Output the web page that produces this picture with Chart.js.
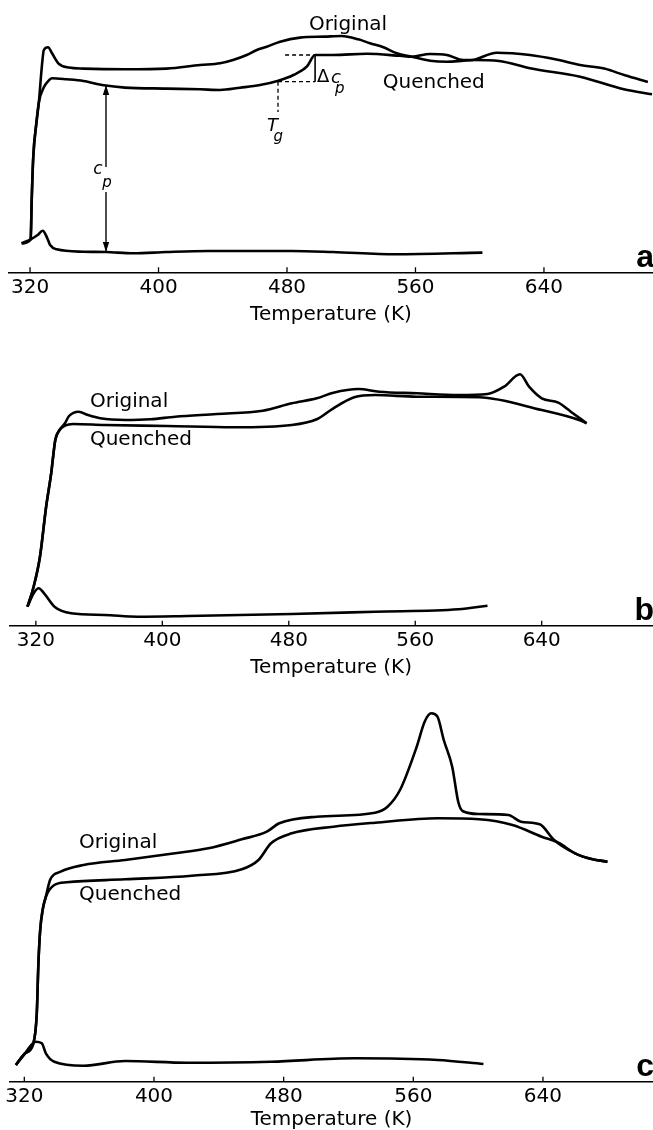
<!DOCTYPE html>
<html><head><meta charset="utf-8">
<script src="https://cdn.jsdelivr.net/npm/chart.js@4.4.1/dist/chart.umd.min.js"></script>
<style>
html,body{margin:0;padding:0;background:#fff;}
body{width:653px;height:1130px;overflow:hidden;position:relative;}
.p{position:absolute;left:0;width:653px;}
canvas{display:block;}
</style></head><body>
<div class="p" style="top:0px"><canvas id="ca" width="653" height="330"></canvas></div>
<div class="p" style="top:330px"><canvas id="cb" width="653" height="360"></canvas></div>
<div class="p" style="top:690px"><canvas id="cc" width="653" height="440"></canvas></div>
<script>
// ---------- DATA (temperature K, heat-capacity signal in arbitrary units) ----------
const tickValues = [320, 400, 480, 560, 640];
const axisTitle = 'Temperature (K)';

// panel a
const aBaseT = [314.8, 320.4, 324.5, 327.9, 330.5, 332.5, 336.6, 353.2, 367.3, 384.3, 405, 430.8, 482.6, 508.5, 547.3, 601.7];
const aBaseH = [29, 33, 37, 41.6, 35, 27.3, 23, 20.6, 20.3, 19, 20.3, 21.3, 21.3, 20.3, 18, 19.7];
const aOrigT = [314.8, 320.4, 321, 322, 324, 325.5, 327.3, 328.6, 331.2, 333.7, 337.6, 344.1, 353.2, 379.1, 405.1, 425.9, 438.3, 446.4, 454.9, 461.2, 467.4, 475.7, 488.1, 503.7, 514, 524.4, 531.7, 540, 548.3, 557.7, 569.1, 579.5, 589.8, 596, 610.6, 631.3, 647, 662.5, 677.5, 690.4, 704.7];
const aOrigH = [29, 33, 70, 115, 150, 170, 205, 222.3, 225, 219, 209, 204.7, 203.7, 203, 203.7, 207.3, 209, 212.3, 217.3, 222.3, 225.6, 230.6, 234.7, 235.7, 236.3, 233, 229, 225, 219, 215.6, 211.6, 210.6, 211.6, 212.3, 219.6, 217.3, 213, 207.3, 203.7, 197, 190.3];
const aQuenT = [314.8, 320.4, 321, 322, 324, 325.5, 328.6, 331.2, 333.7, 342.8, 353.2, 366, 379.1, 405.1, 425.9, 438.3, 450.8, 463.2, 474.6, 484, 492.3, 497.5, 508.7, 529.7, 550.4, 557.7, 569.1, 579.5, 589.8, 596, 612, 631.3, 662.5, 689.7, 707.3];
const aQuenH = [29, 33, 70, 115, 150, 170, 185, 191, 194, 193, 191.3, 187, 184.7, 183.7, 183, 182.3, 184.6, 187.3, 191.6, 197.3, 205.6, 217.3, 217.3, 218.5, 216.5, 215.6, 218.3, 217.3, 212.3, 212.3, 211.3, 204, 195.6, 183, 178];

// panel b
const bBaseT = [314.7, 318.6, 321.8, 325.2, 331.8, 342.3, 363.4, 384.5, 416.1, 481.9, 534.6, 587.3, 605.7];
const bBaseH = [19, 32.4, 37.4, 32.4, 19, 12.4, 10.7, 9, 9.7, 11.7, 14, 16.4, 20];
const bOrigT = [314.7, 318.6, 322.6, 326.5, 329.7, 332.3, 335, 338.4, 341, 347.1, 352.9, 360.8, 376.6, 392.4, 408.2, 434.5, 463.5, 481.9, 497.7, 508.2, 524, 537.2, 560.9, 587.2, 605.7, 616.2, 626.3, 632, 640, 650.5, 658.4, 668.4];
const bOrigH = [19, 39, 69, 119, 152.4, 185.7, 195.7, 202.4, 209.7, 214, 210.7, 207.4, 205.7, 206.4, 209, 211.7, 215, 222.4, 227.4, 233, 236.7, 234, 232.4, 230.7, 231.7, 239, 251.4, 239, 227.4, 223, 214, 202.4];
const bQuenT = [314.7, 318.6, 322.6, 326.5, 329.7, 332.3, 335, 338.4, 343.6, 363.4, 402.9, 445, 481.9, 497.7, 508.2, 521.4, 534.6, 560.9, 600.4, 640, 663.7, 668.4];
const bQuenH = [19, 39, 69, 119, 152.4, 185.7, 195.7, 200, 201.7, 200.7, 199.7, 198.4, 200.7, 206.4, 217.4, 228.4, 230.7, 229, 228.4, 215.7, 205.7, 202.4];

// panel c
const cBaseT = [314.8, 320.5, 326.9, 330.8, 333.3, 338.5, 356.5, 382.2, 420.8, 472.2, 523.6, 575, 603.3];
const cBaseH = [16.7, 28.4, 40, 38.4, 28.4, 20, 16, 20.7, 19, 20, 23.4, 21.7, 17.7];
const cOrigT = [314.8, 320.5, 325.6, 327.7, 328.7, 329.8, 331.3, 333.3, 335.9, 342.4, 356.5, 382.2, 413, 433.6, 454.2, 469.6, 477.3, 500.4, 536.4, 544.1, 551.8, 562.1, 567, 571.1, 574.9, 578.8, 584, 587.8, 590.4, 600.6, 618.7, 626.4, 638, 646.9, 659.8, 670, 679.8];
const cOrigH = [16.7, 28.4, 38.4, 68.4, 118.4, 151.7, 171.7, 185, 201.7, 210, 216.7, 221.7, 228.4, 233.4, 242.4, 250, 258.4, 265, 269, 275, 291.7, 335, 360, 368.4, 365, 341.7, 315, 279.4, 270.7, 267.7, 266.7, 260, 257.4, 241.7, 228.4, 222.7, 220];
const cQuenT = [314.8, 320.5, 325.6, 327.7, 328.7, 329.8, 331.3, 333.3, 338.5, 346.2, 382.2, 423.3, 454.2, 464.5, 472.2, 485, 510.7, 536.4, 575, 600.6, 621.2, 639.2, 649.5, 659.8, 670, 679.8];
const cQuenH = [16.7, 28.4, 38.4, 68.4, 118.4, 151.7, 171.7, 185, 196.7, 199.4, 202.4, 206, 212.4, 221.7, 238.4, 248.4, 255, 259, 263.4, 262.4, 256.7, 245, 239, 228.4, 222.7, 220];

// ---------- helpers ----------
const FONT = '"DejaVu Sans", sans-serif';
const BOLD = '"Liberation Sans", Arial, sans-serif';
function pts(T, H) { return T.map((t, i) => ({ x: t, y: H[i] })); }
function P(ch, T, h) { return [ch.scales.x.getPixelForValue(T), ch.scales.y.getPixelForValue(h)]; }
function txt(ctx, s, x, y, font, align, base) {
  ctx.font = font; ctx.textAlign = align || 'left'; ctx.textBaseline = base || 'middle';
  ctx.fillStyle = '#000'; ctx.fillText(s, x, y);
}
function label(ch, s, T, h, font, align) { const [x, y] = P(ch, T, h); txt(ch.ctx, s, x, y, font, align); }
function seg(ch, T1, h1, T2, h2, dash, w) {
  const ctx = ch.ctx; const [x1, y1] = P(ch, T1, h1); const [x2, y2] = P(ch, T2, h2);
  ctx.save(); ctx.strokeStyle = '#000'; ctx.lineWidth = w || 1.3; ctx.setLineDash(dash || []);
  ctx.beginPath(); ctx.moveTo(x1, y1); ctx.lineTo(x2, y2); ctx.stroke(); ctx.restore();
}
function head(ctx, x, y, dir) {
  ctx.beginPath(); ctx.moveTo(x, y); ctx.lineTo(x - 3.2, y - dir * 10); ctx.lineTo(x + 3.2, y - dir * 10); ctx.closePath(); ctx.fill();
}
function panelLetter(ch, s) {
  const ctx = ch.ctx; const y = ch.scales.y.getPixelForValue(5.5);
  txt(ctx, s, ch.width + 1, y, 'bold 32px ' + BOLD, 'right', 'alphabetic');
}

const upTicks = {
  id: 'upTicks',
  afterDraw(ch) {
    const s = ch.scales.x, ctx = ch.ctx;
    ctx.save(); ctx.strokeStyle = '#000'; ctx.lineWidth = 1.3;
    s.ticks.forEach(t => { const x = s.getPixelForValue(t.value); ctx.beginPath(); ctx.moveTo(x, s.top); ctx.lineTo(x, s.top - 5); ctx.stroke(); });
    ctx.restore();
  }
};

function makeChart(id, sets, o) {
  return new Chart(document.getElementById(id), {
    type: 'line',
    data: { datasets: sets.map(([T, H, name]) => ({
      label: name, data: pts(T, H), borderColor: '#000', borderWidth: 2.6,
      pointRadius: 0, fill: false, cubicInterpolationMode: 'monotone'
    })) },
    options: {
      responsive: false, animation: false, events: [],
      layout: { padding: { left: o.padL, right: 0, top: 0, bottom: 0 } },
      plugins: { legend: { display: false }, tooltip: { enabled: false } },
      scales: {
        x: {
          type: 'linear', min: o.xmin, max: o.xmax,
          afterBuildTicks: s => { s.ticks = tickValues.map(v => ({ value: v })); },
          afterFit: s => { s.height = o.box; },
          grid: { display: false, drawTicks: false },
          border: { display: true, color: '#000', width: 1.5 },
          ticks: { color: '#000', padding: 5, maxRotation: 0, autoSkip: false,
                   font: { family: FONT, size: 20, lineHeight: 1 } },
          title: { display: true, text: axisTitle, color: '#000',
                   font: { family: FONT, size: 20, lineHeight: 1 },
                   padding: { top: 0, bottom: o.titlePB } }
        },
        y: { display: false, min: 0, max: o.ymax }
      }
    },
    plugins: [upTicks, { id: 'ann', afterDraw: o.draw }]
  });
}

// ---------- panel a ----------
makeChart('ca', [[aBaseT, aBaseH, 'Baseline'], [aOrigT, aOrigH, 'Original'], [aQuenT, aQuenH, 'Quenched']],
  { padL: 9, xmin: 306.9, xmax: 707.9, ymax: 272.3, box: 57.7, titlePB: 5,
    draw(ch) {
      const ctx = ch.ctx; ctx.save();
      label(ch, 'Original', 518, 248, '20px ' + FONT, 'center');
      label(ch, 'Quenched', 571.4, 190, '20px ' + FONT, 'center');
      // Tg / delta cp construction
      seg(ch, 478.8, 217.3, 497.5, 217.3, [4, 3], 1.3);
      seg(ch, 497.5, 217.3, 497.5, 190.6, [], 1.6);
      seg(ch, 474.4, 190.6, 497.5, 190.6, [4, 3], 1.3);
      seg(ch, 474.4, 190.6, 474.4, 160.3, [4, 3], 1.3);
      label(ch, 'Δ', 498.7, 195, '18px ' + FONT, 'left');
      label(ch, 'c', 507.4, 194.3, 'italic 18px ' + FONT, 'left');
      label(ch, 'p', 509.9, 183.3, 'italic 15px ' + FONT, 'left');
      label(ch, 'T', 471, 146.3, 'italic 18px ' + FONT, 'center');
      label(ch, 'g', 474.6, 135.3, 'italic 15px ' + FONT, 'center');
      // cp double arrow
      seg(ch, 367.3, 187.3, 367.3, 105.3, [], 1.4);
      seg(ch, 367.3, 80.3, 367.3, 20.3, [], 1.4);
      ctx.fillStyle = '#000';
      let [x, y] = P(ch, 367.3, 187.3); head(ctx, x, y, -1);
      [x, y] = P(ch, 367.3, 20.3); head(ctx, x, y, 1);
      label(ch, 'c', 362.3, 102.3, 'italic 17px ' + FONT, 'center');
      label(ch, 'p', 368, 89.3, 'italic 15px ' + FONT, 'center');
      panelLetter(ch, 'a');
      ctx.restore();
    } });

// ---------- panel b ----------
makeChart('cb', [[bBaseT, bBaseH, 'Baseline'], [bOrigT, bOrigH, 'Original'], [bQuenT, bQuenH, 'Quenched']],
  { padL: 9.3, xmin: 303.2, xmax: 710.4, ymax: 295.7, box: 64.3, titlePB: 12,
    draw(ch) {
      ch.ctx.save();
      label(ch, 'Original', 354.2, 224, '20px ' + FONT, 'left');
      label(ch, 'Quenched', 354.2, 185.7, '20px ' + FONT, 'left');
      panelLetter(ch, 'b');
      ch.ctx.restore();
    } });

// ---------- panel c ----------
makeChart('cc', [[cBaseT, cBaseH, 'Baseline'], [cOrigT, cOrigH, 'Original'], [cQuenT, cQuenH, 'Quenched']],
  { padL: 10, xmin: 311.2, xmax: 707.9, ymax: 391.7, box: 48.3, titlePB: 0,
    draw(ch) {
      ch.ctx.save();
      label(ch, 'Original', 353.8, 238.7, '20px ' + FONT, 'left');
      label(ch, 'Quenched', 353.8, 186.7, '20px ' + FONT, 'left');
      panelLetter(ch, 'c');
      ch.ctx.restore();
    } });
</script>
</body></html>
